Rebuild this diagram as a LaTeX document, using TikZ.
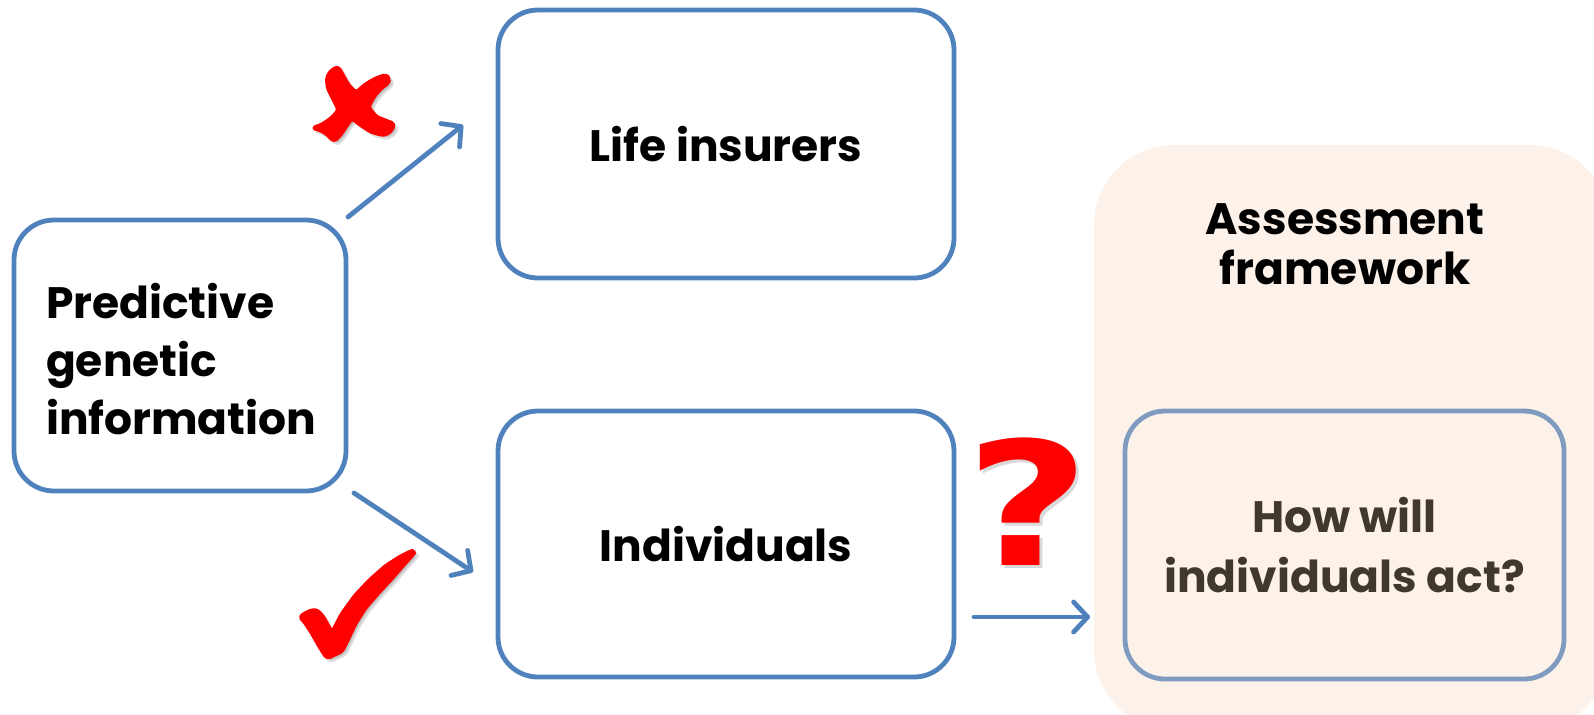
\documentclass[tikz,border=0pt]{standalone}
\usepackage{fontspec}
\setmainfont{Poppins}[BoldFont={* Bold}]
\newfontfamily\qfont{DejaVu Sans}
\usetikzlibrary{arrows.meta}
\definecolor{bblue}{HTML}{4F81BD}
\definecolor{gblue}{HTML}{7F9CC0}
\definecolor{peach}{HTML}{FDF2EA}
\definecolor{dbrown}{HTML}{40372F}
\definecolor{mred}{HTML}{FF0000}
\tikzset{
  box/.style={draw=bblue, line width=2.4pt, rounded corners=20pt, align=center, font=\fontsize{22}{29}\selectfont\bfseries, inner sep=0pt},
  arr/.style={draw=bblue, line width=2.4pt, line cap=round, -{Straight Barb[length=7pt,width=15pt,line cap=round,line join=round]}},
  redmark/.style={fill=mred, draw=mred, line width=2.2pt, line join=round, rounded corners=1.5pt},
  shad/.style={fill=black, draw=black, line width=2.2pt, line join=round, rounded corners=1.5pt, opacity=0.13},
}
\begin{document}
\begin{tikzpicture}[x=0.5pt,y=-0.5pt]
\useasboundingbox (0,0) rectangle (1594,714);
% background
\fill[peach, rounded corners=40pt] (1094,145) rectangle (1610,730);
\node[font=\fontsize{22}{25}\selectfont\bfseries, align=center] (af) at (1345,244) {Assessment\\framework};
% boxes
\node[box, minimum width=166pt, minimum height=135.5pt, align=left] (pgi) at (180,355.5) {};
\node[font=\fontsize{22}{29}\selectfont\bfseries, align=left, anchor=west] (pgit) at (39,359) {Predictive\\genetic\\information};
\node[box, minimum width=228pt, minimum height=134pt] (life) at (726,144) {Life insurers};
\node[box, minimum width=228pt, minimum height=133pt] (ind) at (726,544) {Individuals};
\node[box, draw=gblue, text=dbrown, minimum width=219.5pt, minimum height=134pt, font=\fontsize{22}{30}\selectfont\bfseries] (how) at (1344.5,545) {How will\\individuals act?};
% arrows
\coordinate (a1s) at (348,217);
\coordinate (a1e) at (463,125);
\coordinate (a2s) at (354,493);
\coordinate (a2e) at (473,572);
\coordinate (a3s) at (974,617);
\coordinate (a3e) at (1090,617);
\draw[arr] (a1s) -- (a1e);
\draw[arr] (a2s) -- (a2e);
\draw[arr] (a3s) -- (a3e);
% cross and check
\foreach \s/\dx in {shad/3, redmark/0}{
\begin{scope}[shift={(\dx,\dx)}]
\path[\s] (338,67) -- (343,76) -- (348,85) -- (356,93) -- (365,85) -- (375,79) -- (386,75) -- (389,79) -- (388,83) -- (381,88) -- (374,96) -- (368,107) -- (376,117) -- (386,121) -- (394,124) -- (391,131) -- (384,135) -- (372,132) -- (361,125) -- (352,118) -- (346,126) -- (341,134) -- (334,141) -- (326,133) -- (318,129) -- (313,128) -- (322,125) -- (332,118) -- (339,110) -- (333,98) -- (328,88) -- (327,78) -- (331,71) -- cycle;
\path[\s] (300,617) -- (306,613) -- (313,610) -- (318,611) -- (323,617) -- (328,626) -- (332,633) -- (342,614) -- (355,596) -- (370,580) -- (386,566) -- (400,557) -- (412,551) -- (414,553) -- (405,563) -- (392,578) -- (378,593) -- (365,608) -- (355,624) -- (347,641) -- (342,651) -- (327,658) -- (320,647) -- (312,633) -- (305,622) -- cycle;
\end{scope}}
% question mark
\node[text=black, opacity=0.15, font=\fontsize{86}{86}\qfont\bfseries, xscale=1.25] (qs) at (1031,505) {?};
\node[text=mred, font=\fontsize{86}{86}\qfont\bfseries, xscale=1.25] (q) at (1028,502) {?};
\end{tikzpicture}
\end{document}
